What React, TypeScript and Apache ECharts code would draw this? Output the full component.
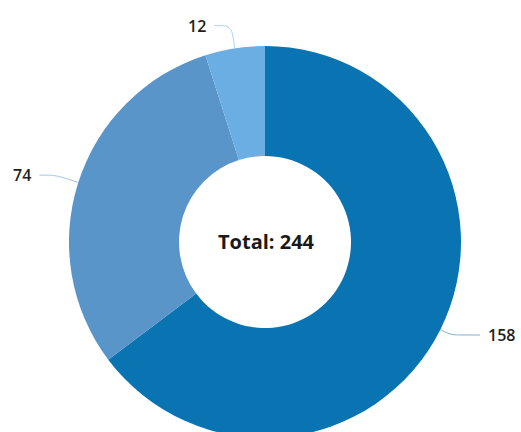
import React, { useEffect, useRef } from "react";
import * as echarts from "echarts";

const categories = ["A", "B", "C"];
const values = [158, 74, 12];
const colors = ["#0a73b1", "#5a95ca", "#6aaee4"];
const total = values.reduce((a, b) => a + b, 0);
const lineLengths = [
  [12, 29],
  [24, 16],
  [23, 17],
];

export default function App() {
  const ref = useRef<HTMLDivElement>(null);
  useEffect(() => {
    if (!ref.current) return;
    const chart = echarts.init(ref.current, undefined, { renderer: "svg" });
    chart.setOption({
      animation: false,
      backgroundColor: "#ffffff",
      graphic: [
        {
          type: "text",
          x: 266,
          y: 241,
          style: {
            text: "Total: " + total,
            fontFamily: "Open Sans",
            fontWeight: "bold",
            fontSize: 20,
            fill: "#1a1a1a",
            align: "center",
            verticalAlign: "middle",
          },
        },
      ],
      series: [
        {
          type: "pie",
          center: [265, 242],
          radius: [86, 196],
          startAngle: 90,
          clockwise: true,
          avoidLabelOverlap: false,
          data: categories.map((c, i) => ({
            name: c,
            value: values[i],
            itemStyle: { color: colors[i] },
            labelLine: {
              length: lineLengths[i][0],
              length2: lineLengths[i][1],
              lineStyle: { color: colors[i], opacity: 0.55 },
            },
          })),
          label: {
            show: true,
            formatter: "{c}",
            fontFamily: "Open Sans",
            fontSize: 16,
            fontWeight: 600,
            color: "#1e1e1e",
            distanceToLabelLine: 8,
          },
          labelLine: {
            show: true,
            smooth: true,
            lineStyle: { width: 1 },
          },
        },
      ],
    });
    return () => chart.dispose();
  }, []);
  return (
    <div
      ref={ref}
      style={{ position: "fixed", left: 0, top: 0, width: 521, height: 432 }}
    />
  );
}
